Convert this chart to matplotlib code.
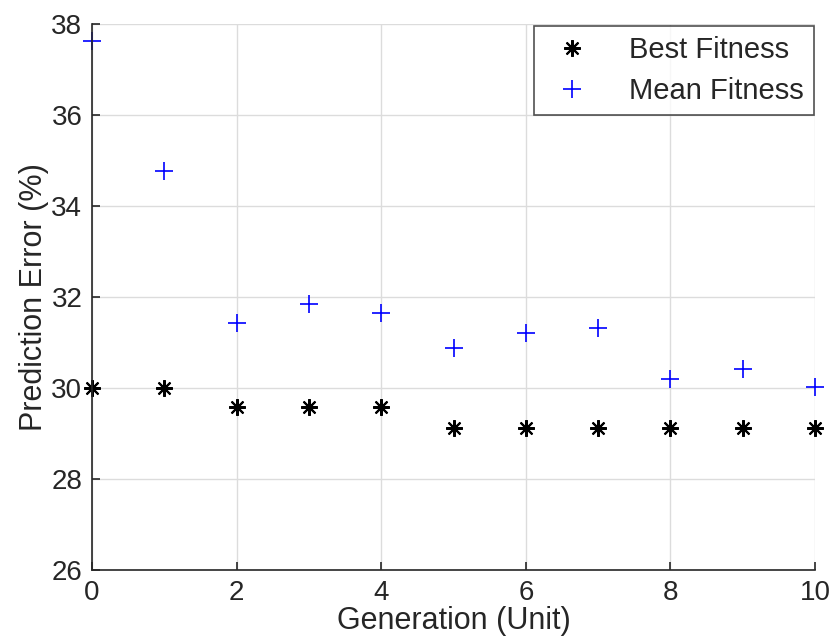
import numpy as np
import matplotlib
matplotlib.use("Agg")
import matplotlib.pyplot as plt

generation = [0, 1, 2, 3, 4, 5, 6, 7, 8, 9, 10]
best_fitness = [30.0, 30.0, 29.58, 29.58, 29.58, 29.13, 29.13, 29.13, 29.13, 29.13, 29.13]
mean_fitness = [37.63, 34.77, 31.43, 31.84, 31.66, 30.89, 31.22, 31.33, 30.20, 30.41, 30.03]

plt.rcParams['font.family'] = ['Liberation Sans', 'DejaVu Sans']
txt = '#262626'

fig = plt.figure(figsize=(8.32, 6.43), dpi=100)
ax = fig.add_axes([0.1106, 0.1135, 0.869, 0.849])

# MATLAB-style asterisk: plus and cross combined
ax.plot(generation, best_fitness, linestyle='none', marker=(8, 2, 0), color='black',
        markersize=12, markeredgewidth=1.5, label='Best Fitness', clip_on=False)
ax.plot(generation, mean_fitness, linestyle='none', marker='+', color='blue',
        markersize=13, markeredgewidth=1.2, label='Mean Fitness', clip_on=False)

ax.set_xlim(0, 10)
ax.set_ylim(26, 38)
ax.set_xticks(np.arange(0, 11, 2))
ax.set_yticks(np.arange(26, 39, 2))
ax.grid(True, color='#dcdcdc', linewidth=1)
ax.set_axisbelow(True)

for s in ['top', 'right']:
    ax.spines[s].set_visible(False)
for s in ['left', 'bottom']:
    ax.spines[s].set_color(txt)
    ax.spines[s].set_linewidth(1.2)

ax.tick_params(direction='in', length=6, width=1.2, colors=txt, labelsize=20, pad=7)
ax.set_xlabel('Generation (Unit)', fontsize=22, color=txt, labelpad=0)
ax.set_ylabel('Prediction Error (%)', fontsize=22, color=txt, labelpad=2)

leg = ax.legend(loc='upper right', fontsize=21, frameon=True, fancybox=False,
                borderaxespad=0.05, handletextpad=1.0, borderpad=0.35,
                labelspacing=0.45, handlelength=1.9)
leg.get_frame().set_edgecolor(txt)
leg.get_frame().set_linewidth(1.2)
for t in leg.get_texts():
    t.set_color(txt)

fig.savefig('out.png', dpi=100)
